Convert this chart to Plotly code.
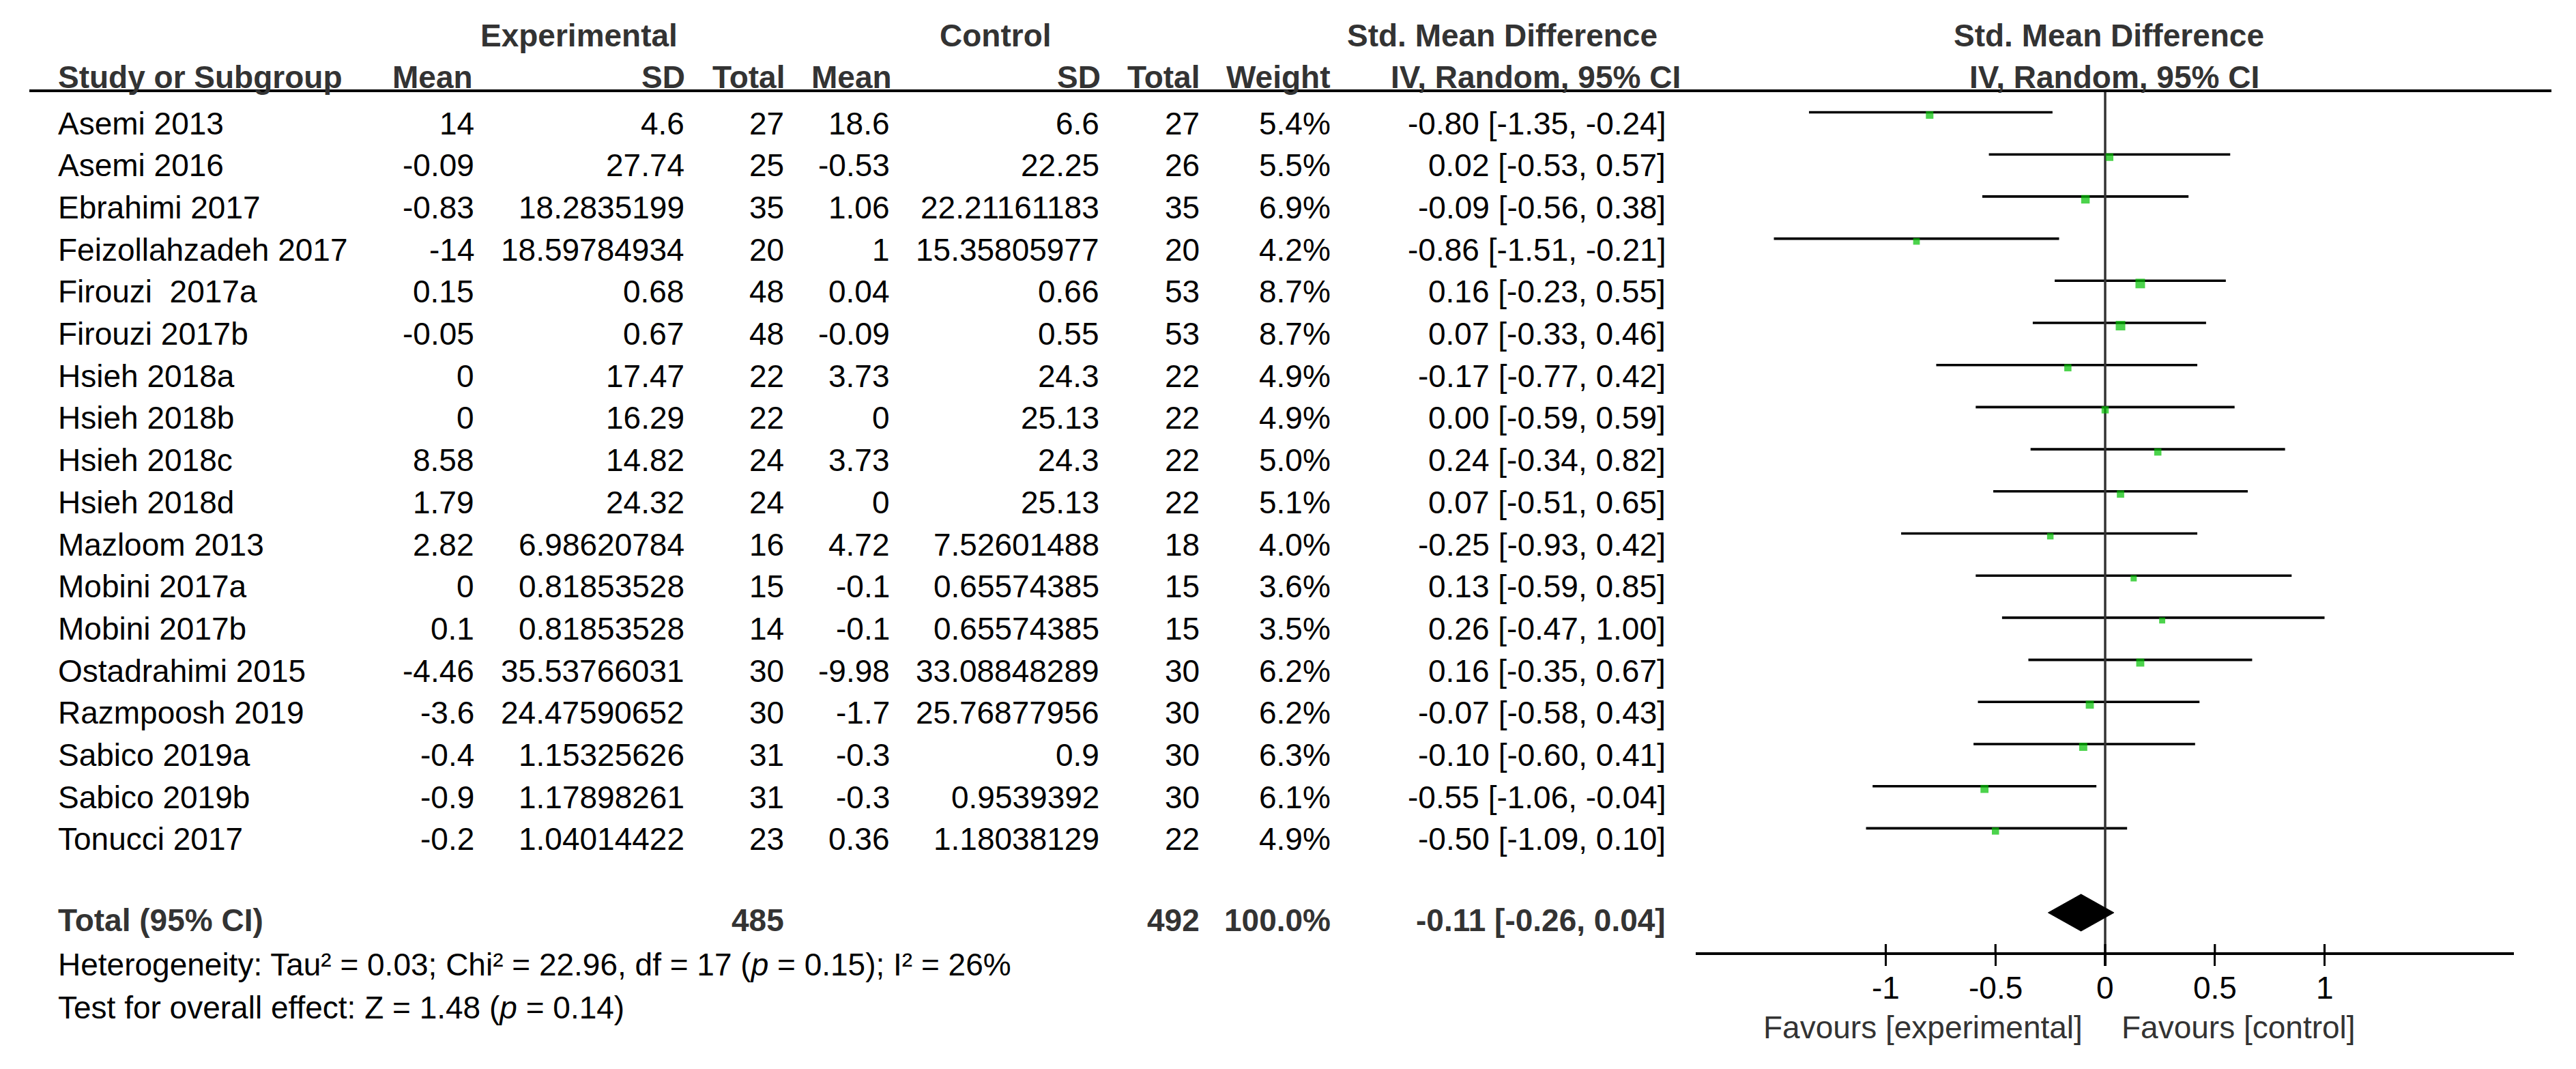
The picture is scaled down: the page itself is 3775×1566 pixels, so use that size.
import plotly.graph_objects as go

# ---------------- data ----------------
studies = ["Asemi 2013", "Asemi 2016", "Ebrahimi 2017", "Feizollahzadeh 2017",
           "Firouzi  2017a", "Firouzi 2017b", "Hsieh 2018a", "Hsieh 2018b",
           "Hsieh 2018c", "Hsieh 2018d", "Mazloom 2013", "Mobini 2017a",
           "Mobini 2017b", "Ostadrahimi 2015", "Razmpoosh 2019", "Sabico 2019a",
           "Sabico 2019b", "Tonucci 2017"]
exp_mean = [14, -0.09, -0.83, -14, 0.15, -0.05, 0, 0, 8.58, 1.79, 2.82, 0, 0.1,
            -4.46, -3.6, -0.4, -0.9, -0.2]
exp_sd = [4.6, 27.74, 18.2835199, 18.59784934, 0.68, 0.67, 17.47, 16.29, 14.82,
          24.32, 6.98620784, 0.81853528, 0.81853528, 35.53766031, 24.47590652,
          1.15325626, 1.17898261, 1.04014422]
exp_total = [27, 25, 35, 20, 48, 48, 22, 22, 24, 24, 16, 15, 14, 30, 30, 31, 31, 23]
ctl_mean = [18.6, -0.53, 1.06, 1, 0.04, -0.09, 3.73, 0, 3.73, 0, 4.72, -0.1, -0.1,
            -9.98, -1.7, -0.3, -0.3, 0.36]
ctl_sd = [6.6, 22.25, 22.21161183, 15.35805977, 0.66, 0.55, 24.3, 25.13, 24.3,
          25.13, 7.52601488, 0.65574385, 0.65574385, 33.08848289, 25.76877956,
          0.9, 0.9539392, 1.18038129]
ctl_total = [27, 26, 35, 20, 53, 53, 22, 22, 22, 22, 18, 15, 15, 30, 30, 30, 30, 22]
weight = [5.4, 5.5, 6.9, 4.2, 8.7, 8.7, 4.9, 4.9, 5.0, 5.1, 4.0, 3.6, 3.5, 6.2,
          6.2, 6.3, 6.1, 4.9]
smd = [-0.80, 0.02, -0.09, -0.86, 0.16, 0.07, -0.17, 0.00, 0.24, 0.07, -0.25,
       0.13, 0.26, 0.16, -0.07, -0.10, -0.55, -0.50]
ci_low = [-1.35, -0.53, -0.56, -1.51, -0.23, -0.33, -0.77, -0.59, -0.34, -0.51,
          -0.93, -0.59, -0.47, -0.35, -0.58, -0.60, -1.06, -1.09]
ci_high = [-0.24, 0.57, 0.38, -0.21, 0.55, 0.46, 0.42, 0.59, 0.82, 0.65, 0.42,
           0.85, 1.00, 0.67, 0.43, 0.41, -0.04, 0.10]

total_exp = 485
total_ctl = 492
total_weight = 100.0
total_smd = -0.11
total_low = -0.26
total_high = 0.04

tick_vals = [-1, -0.5, 0, 0.5, 1]
tick_text = ["-1", "-0.5", "0", "0.5", "1"]

heterogeneity = "Heterogeneity: Tau² = 0.03; Chi² = 22.96, df = 17 (<i>p</i> = 0.15); I² = 26%"
overall = "Test for overall effect: Z = 1.48 (<i>p</i> = 0.14)"
favours_left = "Favours [experimental]"
favours_right = "Favours [control]"

# ---------------- layout geometry (pixels) ----------------
W, H = 3775, 1566
ROW0, ROWH = 164.5, 61.7          # pixel y of first CI line, row pitch
ZERO_PX, UNIT_PX = 3085.0, 321.5  # x pixel of 0 and pixels per unit
AX_L, AX_R = 2485.0, 3684.0
AX_Y = 1397.0
FONT = "Liberation Sans, Arial, sans-serif"
FS = 46
TXT = "#000000"
HDR = "#333333"


def px2row(p):
    return (p - ROW0) / ROWH


def pxx(p):
    return p / W


def pxy(p):
    return 1 - p / H


n = len(studies)
rows = list(range(n))
total_row = px2row(1337)

fig = go.Figure()

# CI lines
cx, cy = [], []
for i in rows:
    cx += [ci_low[i], ci_high[i], None]
    cy += [i, i, None]
fig.add_trace(go.Scatter(x=cx, y=cy, mode="lines",
                         line=dict(color="black", width=3.6),
                         hoverinfo="skip", showlegend=False))

# zero line
fig.add_trace(go.Scatter(x=[0, 0], y=[px2row(133), px2row(AX_Y)], mode="lines",
                         line=dict(color="#333333", width=3.5),
                         hoverinfo="skip", showlegend=False))

# study squares (slightly below the line, on a shifted overlay axis)
fig.add_trace(go.Scatter(x=smd, y=rows, mode="markers", yaxis="y2",
                         marker=dict(symbol="square", color="#00c000",
                                     size=[4.75 * w ** 0.5 for w in weight],
                                     line=dict(width=0)),
                         hoverinfo="skip", showlegend=False))

# diamond
dh = 27 / ROWH
fig.add_trace(go.Scatter(x=[total_low, total_smd, total_high, total_smd, total_low],
                         y=[total_row, total_row - dh, total_row, total_row + dh, total_row],
                         mode="lines", fill="toself", fillcolor="black",
                         line=dict(color="black", width=1),
                         hoverinfo="skip", showlegend=False))

# upper half of ticks
tx, ty = [], []
for v in tick_vals:
    tx += [v, v, None]
    ty += [px2row(AX_Y), px2row(AX_Y - 14), None]
fig.add_trace(go.Scatter(x=tx, y=ty, mode="lines",
                         line=dict(color="black", width=3.2),
                         hoverinfo="skip", showlegend=False))

ann = []


def add(text, x_px, y_px, anchor="right", color=TXT, size=FS):
    ann.append(dict(text=text, x=pxx(x_px), y=pxy(y_px), xref="paper", yref="paper",
                    xanchor=anchor, yanchor="middle", showarrow=False,
                    font=dict(family=FONT, size=size, color=color)))


# header
add("<b>Experimental</b>", 848, 52, "center", HDR)
add("<b>Control</b>", 1459, 52, "center", HDR)
add("<b>Std. Mean Difference</b>", 2201, 52, "center", HDR)
add("<b>Std. Mean Difference</b>", 3090, 52, "center", HDR)
add("<b>Study or Subgroup</b>", 83, 113, "left", HDR)
hdr2 = [("Mean", 695), ("SD", 1006), ("Total", 1152), ("Mean", 1309),
        ("SD", 1615), ("Total", 1760), ("Weight", 1951),
        ("IV, Random, 95% CI", 2465)]
for t, xp in hdr2:
    add(f"<b>{t}</b>", xp, 113, "right", HDR)
add("<b>IV, Random, 95% CI</b>", 3098, 113, "center", HDR)

# rows
cols = [697, 1005, 1151, 1306, 1613, 1760, 1952, 2443]
for i in rows:
    yp = ROW0 + ROWH * i + 16
    add(studies[i], 83, yp, "left")
    vals = [str(exp_mean[i]), str(exp_sd[i]), str(exp_total[i]), str(ctl_mean[i]),
            str(ctl_sd[i]), str(ctl_total[i]), f"{weight[i]:.1f}%",
            f"{smd[i]:.2f} [{ci_low[i]:.2f}, {ci_high[i]:.2f}]"]
    for v, xp in zip(vals, cols):
        add(v, xp, yp, "right")

# total row
ty_px = 1348
add("<b>Total (95% CI)</b>", 83, ty_px, "left", HDR)
add(f"<b>{total_exp}</b>", 1151, ty_px, "right", HDR)
add(f"<b>{total_ctl}</b>", 1760, ty_px, "right", HDR)
add(f"<b>{total_weight:.1f}%</b>", 1952, ty_px, "right", HDR)
add(f"<b>{total_smd:.2f} [{total_low:.2f}, {total_high:.2f}]</b>", 2443, ty_px, "right", HDR)

add(heterogeneity, 83, 1413, "left")
add(overall, 83, 1476, "left")

add(favours_left, 3054, 1505, "right", HDR)
add(favours_right, 3107, 1505, "left", HDR)

# tick labels placed through the x axis scale
for v, t in zip(tick_vals, tick_text):
    ann.append(dict(text=t, x=v, y=pxy(1447), xref="x", yref="paper",
                    xanchor="center", yanchor="middle", showarrow=False,
                    font=dict(family=FONT, size=FS, color=TXT)))

xr0 = (AX_L - ZERO_PX) / UNIT_PX
xr1 = (AX_R - ZERO_PX) / UNIT_PX

fig.update_layout(
    width=W, height=H, margin=dict(l=0, r=0, t=0, b=0),
    paper_bgcolor="white", plot_bgcolor="white",
    annotations=ann,
    xaxis=dict(domain=[pxx(AX_L), pxx(AX_R)], range=[xr0, xr1],
               anchor="free", position=pxy(AX_Y),
               showline=True, linecolor="black", linewidth=4,
               ticks="outside", ticklen=16, tickwidth=3.2, tickcolor="black",
               tickvals=tick_vals, showticklabels=False,
               showgrid=False, zeroline=False, fixedrange=True),
    yaxis=dict(domain=[0, 1], range=[px2row(H), px2row(0)], visible=False,
               fixedrange=True),
    yaxis2=dict(domain=[0, 1], overlaying="y",
                range=[(H - ROW0 - 4) / ROWH, (0 - ROW0 - 4) / ROWH],
                visible=False, fixedrange=True),
    shapes=[dict(type="line", xref="paper", yref="paper",
                 x0=pxx(43), x1=pxx(3739), y0=pxy(133), y1=pxy(133),
                 line=dict(color="black", width=4))],
)

fig.write_html(
    "out.html",
    config={"displayModeBar": False, "staticPlot": True},
    post_script="document.body.style.margin='0px';document.body.style.padding='0px';"
                "document.body.style.overflow='hidden';",
)
